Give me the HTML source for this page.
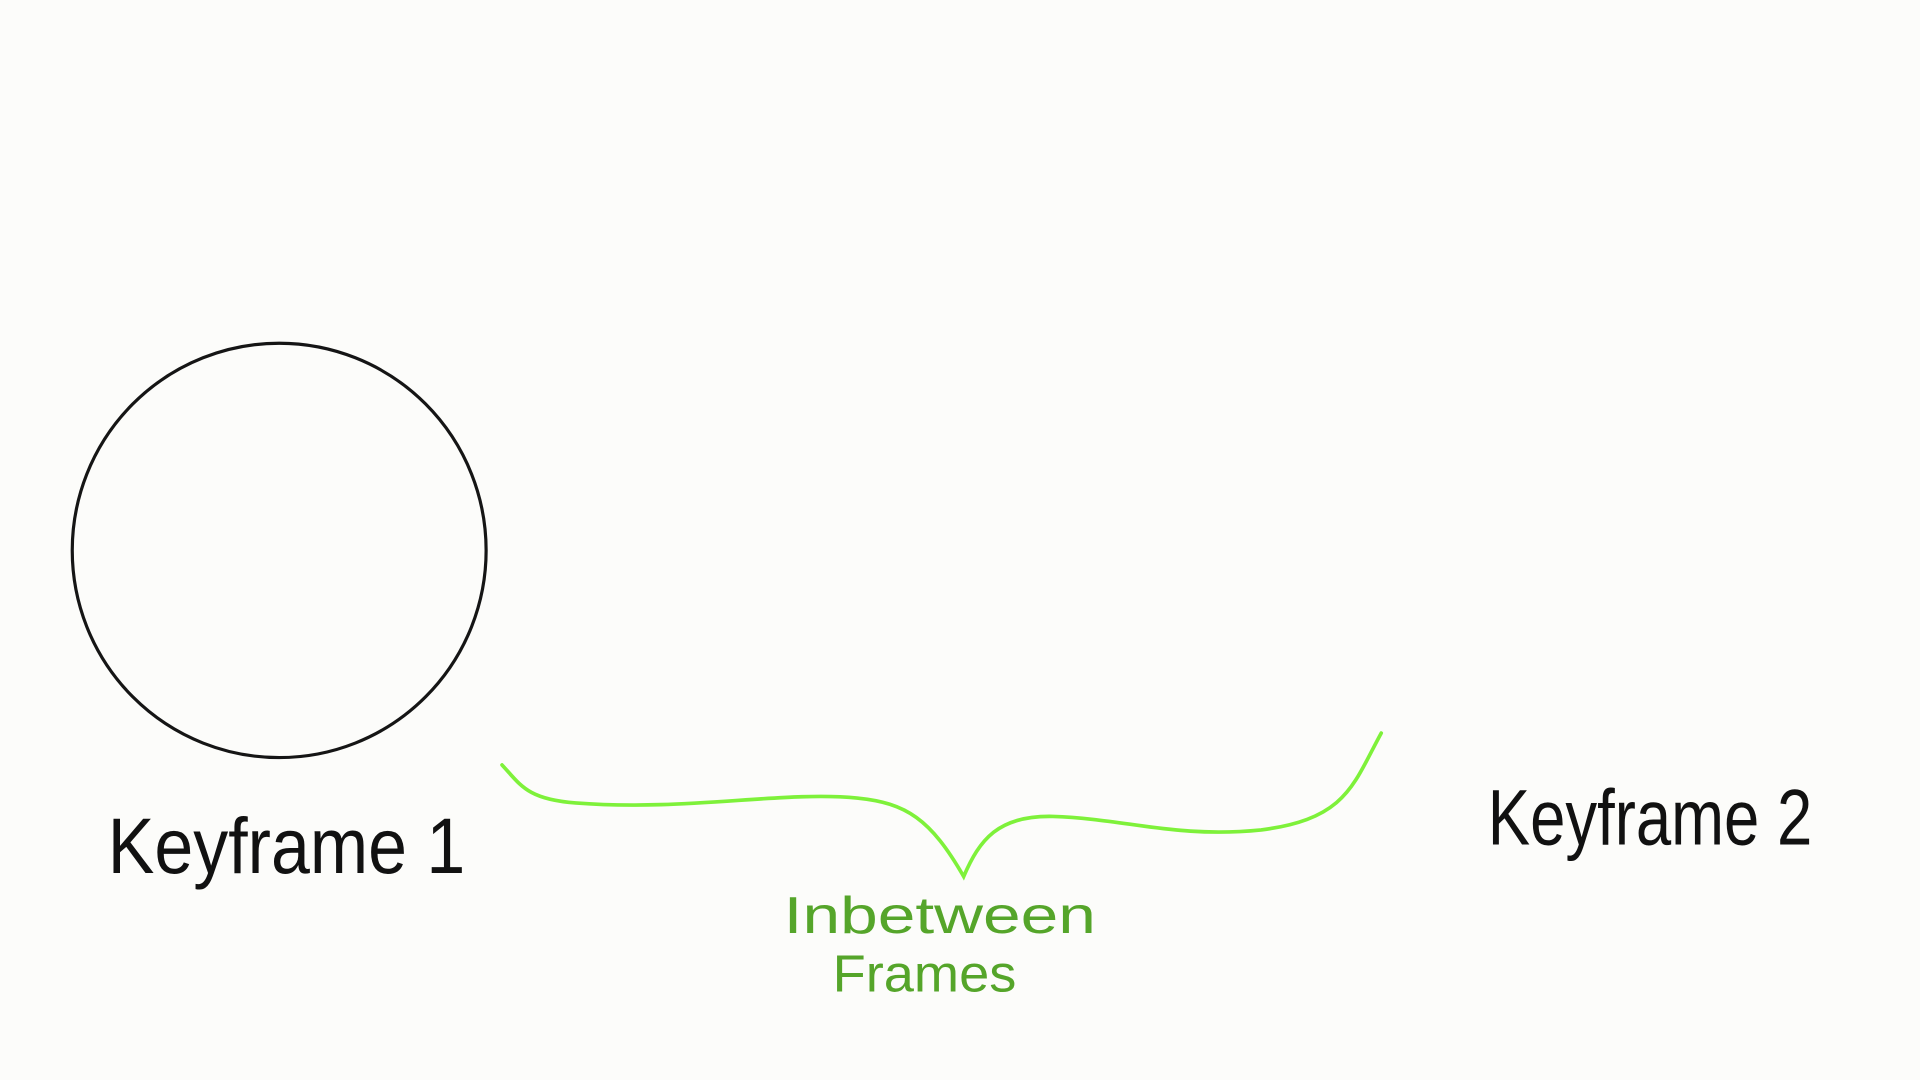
<!DOCTYPE html>
<html>
<head>
<meta charset="utf-8">
<style>
  html, body { margin:0; padding:0; background:#fcfcfa; }
  svg { display:block; }
  text { font-family: "Liberation Sans", sans-serif; }
</style>
</head>
<body>
<svg width="1920" height="1080" viewBox="0 0 1568 881" preserveAspectRatio="none" xmlns="http://www.w3.org/2000/svg">
  <rect x="0" y="0" width="1568" height="881" fill="#fcfcfa"/>
  <ellipse cx="228" cy="449" rx="169" ry="169" fill="none" stroke="#151515" stroke-width="2.6"/>
  <text x="88" y="712" font-size="64" fill="#111" textLength="292" lengthAdjust="spacingAndGlyphs" font-weight="300">Keyframe 1</text>
  <text x="1215" y="689" font-size="64" fill="#111" textLength="265" lengthAdjust="spacingAndGlyphs" font-weight="300">Keyframe 2</text>
  <path d="M410 624 C425 640, 430 652, 470 655 C560 662, 640 645, 700 651 C740 655, 760 668, 787 715 C800 685, 815 665, 860 666 C920 668, 960 684, 1030 677 C1100 668, 1105 640, 1128 598" fill="none" stroke="#7ef13a" stroke-width="3" stroke-linecap="round"/>
  <text x="640" y="761" font-size="42" fill="#55a52a" textLength="255" lengthAdjust="spacingAndGlyphs">Inbetween</text>
  <text x="680" y="809" font-size="42" fill="#55a52a" textLength="150" lengthAdjust="spacingAndGlyphs">Frames</text>
</svg>
</body>
</html>
